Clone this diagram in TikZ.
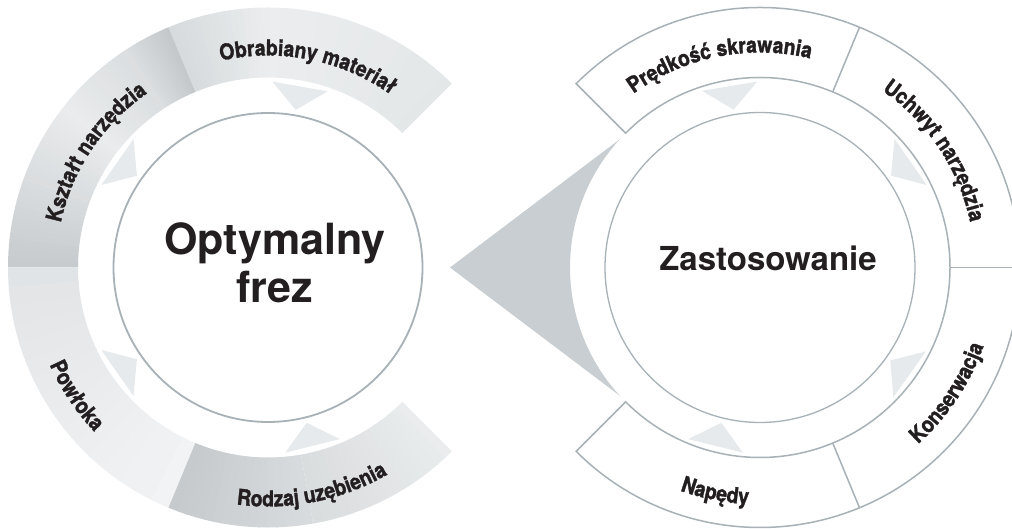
\documentclass[tikz,border=0pt]{standalone}
\usepackage{fontspec}
\setmainfont{TeX Gyre Heros}
\newfontfamily\lblfont[FakeStretch=0.88,BoldFeatures={FakeBold=1.5}]{TeX Gyre Heros}
\usetikzlibrary{decorations.text}
\definecolor{ln}{HTML}{A7B1B6}
\definecolor{bigtri}{HTML}{C8CED1}
\definecolor{stri}{HTML}{E7EAEC}
\definecolor{txt}{HTML}{231F20}
% ring shade stops
\definecolor{oA}{HTML}{E4E7E8}
\definecolor{oB}{HTML}{EBEDEE}
\definecolor{oC}{HTML}{D6DADC}
\definecolor{kA}{HTML}{C3C7CA}
\definecolor{kB}{HTML}{DBDEE0}
\definecolor{kC}{HTML}{E9EBEC}
\definecolor{kD}{HTML}{DADDDF}
\definecolor{kE}{HTML}{C6CACD}
\definecolor{pA}{HTML}{E1E4E6}
\definecolor{pB}{HTML}{F2F3F4}
\definecolor{rA}{HTML}{C5C9CC}
\definecolor{rB}{HTML}{D9DCDE}
\definecolor{rC}{HTML}{EAECED}
\tikzset{
  ringline/.style={draw=ln, line width=1.5pt},
  arclabel/.style={decorate, decoration={text along path, text align=center,
      text color=txt, text={|\lblfont\bfseries\fontsize{22}{22}\selectfont|#1}}},
  centertext/.style={text=txt, font=\bfseries\fontsize{43}{48}\selectfont, inner sep=0pt, anchor=base},
  smalltri/.style={fill=stri},
}
% angular gradient ring piece: #1 start angle, #2 end angle, #3 colour at start, #4 colour at end
\newcommand\angpiece[4]{%
  \foreach \i in {0,...,15}{%
    \pgfmathsetmacro\sa{#1+(#2-#1)*\i/16}%
    \pgfmathsetmacro\ea{#1+(#2-#1)*(\i+1.15)/16}%
    \ifnum\i=15 \pgfmathsetmacro\ea{#2}\fi
    \pgfmathsetmacro\pc{100-100*(\i+0.5)/16}%
    \fill[#3!\pc!#4] (\sa:190) -- (\sa:260) arc[start angle=\sa,end angle=\ea,radius=260] -- (\ea:190) arc[start angle=\ea,end angle=\sa,radius=190] -- cycle;
  }}
\begin{document}
\begin{tikzpicture}[x=1pt,y=1pt]
\useasboundingbox (0,0) rectangle (1012,529);
\clip (0,0) rectangle (1012,529);
% ---------- left ring ----------
\begin{scope}[shift={(268,261.5)}]
  % Obrabiany material
  \angpiece{45}{90}{oA}{oB}
  \angpiece{90}{112.5}{oB}{oC}
  % Ksztalt narzedzia
  \angpiece{112.5}{123}{kA}{kB}
  \angpiece{123}{142}{kB}{kC}
  \angpiece{142}{160}{kC}{kD}
  \angpiece{160}{180}{kD}{kE}
  % Powloka
  \angpiece{180}{247.5}{pA}{pB}
  % Rodzaj uzebienia
  \angpiece{247.5}{280}{rA}{rB}
  \angpiece{280}{315}{rB}{rC}
  \foreach \a in {80,145,215,284}
    \fill[smalltri] (\a+8.7:186) -- (\a:160) -- (\a-8.7:186) -- cycle;
  \draw[ln, line width=1.8pt, fill=white] (0,0) circle[radius=154.5];
  \path[arclabel={Obrabiany materiał}] (112.5:212) arc[start angle=112.5,end angle=45,radius=212];
  \path[arclabel={Kształt narzędzia}] (180:212) arc[start angle=180,end angle=112.5,radius=212];
  \path[arclabel={Powłoka}] (180:239) arc[start angle=180,end angle=247.5,radius=239];
  \path[arclabel={Rodzaj uzębienia}] (247.5:239) arc[start angle=247.5,end angle=315,radius=239];
\end{scope}
\node[centertext] (opt) at (275,274) {Optymalny};
\node[centertext] (frez) at (275,226) {frez};
% ---------- big pointer ----------
\fill[bigtri] (450,261.5) -- ([shift={(137.5:190)}]760,261.5) arc[start angle=137.5,end angle=222.5,radius=190] -- cycle;
% ---------- right ring ----------
\begin{scope}[shift={(760,261.5)}]
  \draw[ringline, fill=white] (135:190) -- (135:260) arc[start angle=135,end angle=-135,radius=260] -- (-135:190) arc[start angle=-135,end angle=135,radius=190] -- cycle;
  \foreach \a in {67.5,0,-67.5}
    \draw[ringline] (\a:190) -- (\a:260);
  \foreach \a in {99.5,35,-35.5,-104}
    \fill[smalltri] (\a+8.7:186) -- (\a:160) -- (\a-8.7:186) -- cycle;
  \draw[ln, line width=1.3pt, fill=white] (0,0) circle[radius=155];
  \path[arclabel={Prędkość skrawania}] (135:215) arc[start angle=135,end angle=67.5,radius=215];
  \path[arclabel={Uchwyt narzędzia}] (67.5:215) arc[start angle=67.5,end angle=0,radius=215];
  \path[arclabel={Konserwacja}] (-67.5:237) arc[start angle=-67.5,end angle=0,radius=237];
  \path[arclabel={Napędy}] (-135:237) arc[start angle=-135,end angle=-67.5,radius=237];
\end{scope}
\node[text=txt, font=\bfseries\fontsize{33}{40}\selectfont, inner sep=0pt, anchor=base] (zast) at (768,258) {Zastosowanie};
\end{tikzpicture}
\end{document}
